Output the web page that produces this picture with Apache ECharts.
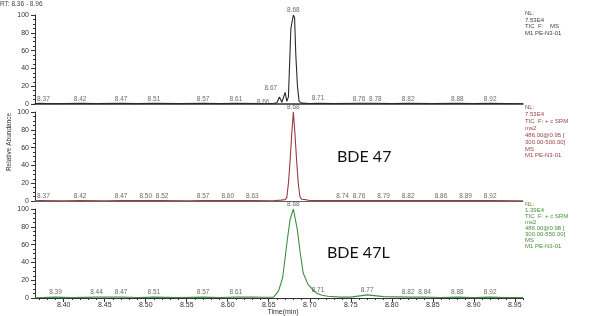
<!DOCTYPE html>
<html><head><meta charset="utf-8">
<script src="https://cdn.jsdelivr.net/npm/echarts@6/dist/echarts.min.js"></script>
<style>html,body{margin:0;padding:0;background:#fff}#c{width:596px;height:316px}</style>
</head><body><div id="c"></div>
<script>
// ---- data ----
const xTicks = [8.40, 8.45, 8.50, 8.55, 8.60, 8.65, 8.70, 8.75, 8.80, 8.85, 8.90, 8.95];
const yTicks = [0, 20, 40, 60, 80, 100];

const p1Trace = [[8.365,0.3],[8.37,0.8],[8.38,0.4],[8.40,0.5],[8.42,0.8],[8.44,0.4],[8.47,0.8],[8.49,0.4],[8.51,0.8],[8.54,0.4],[8.57,0.8],[8.59,0.4],[8.61,0.8],[8.64,0.4],[8.655,0.6],[8.660,1.5],[8.663,8],[8.666,2],[8.670,13],[8.672,3],[8.674,8],[8.677,85],[8.680,100],[8.6815,97],[8.683,55],[8.685,20],[8.687,3],[8.690,1],[8.70,0.5],[8.71,0.9],[8.73,0.4],[8.76,0.8],[8.78,0.8],[8.80,0.4],[8.82,0.8],[8.85,0.4],[8.88,0.8],[8.90,0.4],[8.92,0.8],[8.96,0.3]];
const p2Trace = [[8.365,0.3],[8.37,0.6],[8.40,0.3],[8.42,0.6],[8.45,0.3],[8.47,0.6],[8.50,0.6],[8.52,0.6],[8.55,0.3],[8.57,0.6],[8.60,0.6],[8.63,0.6],[8.655,0.3],[8.665,1],[8.670,1.5],[8.672,4],[8.674,20],[8.676,45],[8.678,75],[8.680,100],[8.682,75],[8.684,45],[8.686,20],[8.688,5],[8.690,2],[8.695,1.5],[8.70,0.6],[8.74,0.6],[8.76,0.6],[8.79,0.6],[8.82,0.6],[8.86,0.6],[8.89,0.6],[8.92,0.6],[8.96,0.3]];
const p3Trace = [[8.365,0.3],[8.39,1],[8.41,0.4],[8.44,1],[8.47,1],[8.49,0.5],[8.51,1],[8.54,0.5],[8.57,1],[8.59,0.6],[8.61,1],[8.63,1.2],[8.645,0.8],[8.656,1],[8.662,8],[8.667,23],[8.673,68],[8.676,88],[8.680,100],[8.685,76],[8.6885,50],[8.692,28],[8.698,15],[8.704,9],[8.709,5],[8.715,3],[8.722,2],[8.737,1],[8.75,1],[8.77,3.5],[8.79,1.5],[8.82,1],[8.84,1],[8.86,0.6],[8.88,1],[8.90,0.6],[8.92,1],[8.94,0.6],[8.96,0.4]];

const p1Peaks = [[8.37,0.8],[8.42,0.8],[8.47,0.8],[8.51,0.8],[8.57,0.8],[8.61,0.8],[8.663,3],[8.670,13],[8.680,100],[8.71,0.9],[8.76,0.8],[8.78,0.8],[8.82,0.8],[8.88,0.8],[8.92,0.8]];
const p2Peaks = [[8.37,0.6],[8.42,0.6],[8.47,0.6],[8.50,0.6],[8.52,0.6],[8.57,0.6],[8.60,0.6],[8.63,0.6],[8.680,100],[8.74,0.6],[8.76,0.6],[8.79,0.6],[8.82,0.6],[8.86,0.6],[8.89,0.6],[8.92,0.6]];
const p3Peaks = [[8.39,1],[8.44,1],[8.47,1],[8.51,1],[8.57,1],[8.61,1],[8.680,100],[8.71,4],[8.77,3.5],[8.82,1],[8.84,1],[8.88,1],[8.92,1]];

const info1 = ["NL:", "7.53E4", "TIC  F:    MS", "M1 PE-N3-01"];
const info2 = ["NL:", "7.53E4", "TIC  F: + c SRM", "ms2", "486.00@0.95 [", "300.00-500.00]", "MS", "M1 PE-N3-01"];
const info3 = ["NL:", "1.39E4", "TIC  F: + c SRM", "ms2", "486.00@0.98 [", "300.00-550.00]", "MS", "M1 PE-N3-01"];

// ---- chart ----
const XMIN = 8.365, XMAX = 8.96;
const minorX = [];
for (let i = 837; i <= 896; i++) minorX.push(i / 100);
const F = 'Liberation Sans, Arial, sans-serif';
const colors = ['#2a2a2a', '#9a3a3e', '#3f8f3f'];
const tops = [15, 112, 209];

const grids = tops.map(t => ({left: 35, right: 73, top: t, height: 89}));
const xAxes = [];
const yAxes = [];
for (let i = 0; i < 3; i++) {
  const last = i === 2;
  xAxes.push({
    type: 'value', gridIndex: i, min: XMIN, max: XMAX,
    splitLine: {show: false},
    axisLine: {show: true, onZero: false, lineStyle: {color: i === 0 ? '#333' : (last ? '#333' : '#666'), width: i === 0 ? 1.6 : 1}},
    axisTick: last ? {show: true, customValues: xTicks, length: 4, lineStyle: {color: '#333'}} : {show: false},
    axisLabel: last ? {show: true, customValues: xTicks, fontSize: 7, color: '#333', fontFamily: F, margin: 4,
      formatter: v => v.toFixed(2)} : {show: false}
  });
  yAxes.push({
    type: 'value', gridIndex: i, min: 0, max: 100, interval: 20,
    splitLine: {show: false},
    axisLine: {show: true, lineStyle: {color: '#333'}},
    axisTick: {show: true, length: 4, lineStyle: {color: '#333'}},
    minorTick: {show: true, splitNumber: 4, length: 2, lineStyle: {color: '#333'}},
    axisLabel: {fontSize: 7, color: '#333', fontFamily: F, margin: 6}
  });
}
// minor ticks on bottom time axis
xAxes.push({
  type: 'value', gridIndex: 2, min: XMIN, max: XMAX, position: 'bottom',
  splitLine: {show: false}, axisLine: {show: false},
  axisTick: {show: true, customValues: minorX, length: 2, lineStyle: {color: '#333'}},
  axisLabel: {show: false}
});

const traces = [p1Trace, p2Trace, p3Trace];
const peaks = [p1Peaks, p2Peaks, p3Peaks];
const series = [];
for (let i = 0; i < 3; i++) {
  series.push({
    type: 'line', xAxisIndex: i, yAxisIndex: i, data: traces[i], symbol: 'none',
    lineStyle: {color: colors[i], width: 1.1}, animation: false, z: 3
  });
  const items = peaks[i].map(p => {
    const it = {value: p};
    // small neighbouring peaks in panel 1 are labelled to the left
    if (i === 0 && p[0] > 8.66 && p[0] < 8.675) {
      it.label = {position: 'left', distance: 6, offset: p[1] > 5 ? [-2, -4] : [-4, 1]};
    }
    // first label sits just inside the plot edge
    if (p[0] < 8.375) {
      it.label = {align: 'left', offset: [-2, 0]};
    }
    return it;
  });
  series.push({
    type: 'scatter', xAxisIndex: i, yAxisIndex: i, data: items, symbolSize: 0,
    silent: true, animation: false, z: 4, clip: false,
    label: {show: true, position: 'top', distance: 1, fontSize: 6.5, color: '#444', fontFamily: F,
      formatter: p => p.value[0].toFixed(2)}
  });
}

const infoText = (lines, x, y, lh, color) => ({
  type: 'text', left: x, top: y, silent: true,
  style: {text: lines.join('\n'), fill: color, font: '6px ' + F, lineHeight: lh}
});

const option = {
  animation: false,
  grid: grids, xAxis: xAxes, yAxis: yAxes, series: series,
  graphic: [
    {type: 'text', left: 0, top: 1, style: {text: 'RT: 8.36 - 8.96', fill: '#444', font: '6.5px ' + F}},
    infoText(info1, 525, 10, 6.6, '#444'),
    infoText(info2, 525, 104, 6.9, '#9a4448'),
    infoText(info3, 525, 201, 6.0, '#4a8f3a'),
    {type: 'text', x: 9, y: 142, rotation: Math.PI / 2,
      style: {text: 'Relative Abundance', fill: '#333', font: '6.5px ' + F, align: 'center', verticalAlign: 'middle'}},
    {type: 'text', x: 283, y: 312,
      style: {text: 'Time(min)', fill: '#333', font: '7px ' + F, align: 'center', verticalAlign: 'middle'}},
    {type: 'text', x: 337, y: 157,
      style: {text: 'BDE 47', fill: '#111', font: '16px Lato, sans-serif', verticalAlign: 'middle'}},
    {type: 'text', x: 327, y: 253,
      style: {text: 'BDE 47L', fill: '#111', font: '16px Lato, sans-serif', verticalAlign: 'middle'}}
  ]
};
const chart = echarts.init(document.getElementById('c'), null, {renderer: 'canvas'});
chart.setOption(option);
</script></body></html>
